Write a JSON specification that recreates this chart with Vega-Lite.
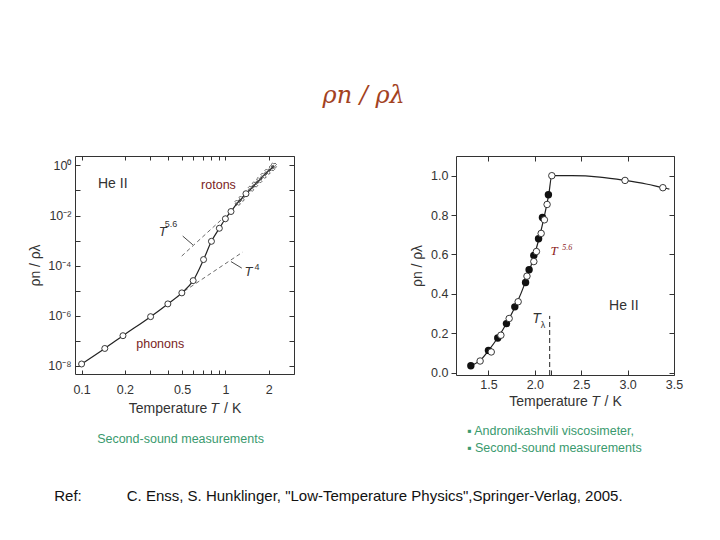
{
  "$schema": "https://vega.github.io/schema/vega-lite/v6.json",
  "background": "white",
  "padding": {"left": 28, "top": 84, "right": 0, "bottom": 0},
  "title": {"text": "ρn / ρλ", "font": "DejaVu Serif", "fontStyle": "italic", "fontWeight": "normal", "fontSize": 24, "color": "#a3421f", "anchor": "middle", "offset": 47, "dx": 8},
  "vconcat": [
    {
      "title": {"text": "Ref:\u2003\u2003\u2003C. Enss, S. Hunklinger, \"Low-Temperature Physics\",Springer-Verlag, 2005.", "orient": "bottom", "anchor": "start", "frame": "bounds", "dx": 26, "offset": 34, "font": "Liberation Sans", "fontSize": 15, "fontWeight": "normal", "color": "#111"},
      "spacing": 115,
      "hconcat": [
        {
          "width": 219,
          "height": 218,
          "title": {"text": "Second-sound measurements", "orient": "bottom", "anchor": "middle", "frame": "group", "dx": -4, "offset": 17, "font": "Liberation Sans", "fontSize": 12.5, "fontWeight": "normal", "color": "#3a9a6e"},
          "resolve": {"axis": {"x": "independent", "y": "independent"}},
          "layer": [
            {
              "data": {"values": [
                {"x": 0.497, "y": 0.000240, "g": "a"}, {"x": 1.0, "y": 0.00955, "g": "a"},
                {"x": 0.518, "y": 0.00000955, "g": "b"}, {"x": 1.32, "y": 0.000347, "g": "b"}
              ]},
              "mark": {"type": "line", "strokeDash": [4, 3], "strokeWidth": 0.8, "color": "#444"},
              "encoding": {
                "x": {"field": "x", "type": "quantitative", "scale": {"type": "log", "domain": [0.09, 3.0]},
                  "axis": {"orient": "bottom", "values": [0.1, 0.2, 0.3, 0.4, 0.5, 0.6, 0.7, 0.8, 0.9, 1, 2, 3], "labelExpr": "datum.value == 0.1 ? '0.1' : datum.value == 0.2 ? '0.2' : datum.value == 0.5 ? '0.5' : datum.value == 1 ? '1' : datum.value == 2 ? '2' : ''", "tickSize": -4, "labelPadding": 13, "title": "Temperature 𝑇 / K", "titlePadding": 6, "labelFlush": false, "labelOverlap": false}},
                "y": {"field": "y", "type": "quantitative", "scale": {"type": "log", "domain": [4.68e-9, 2.38]},
                  "axis": {"orient": "left", "values": [1e-8, 1e-7, 1e-6, 1e-5, 1e-4, 1e-3, 1e-2, 1e-1, 1], "labelExpr": "datum.value == 1 ? '10⁰' : datum.value == 0.01 ? '10⁻²' : datum.value == 0.0001 ? '10⁻⁴' : datum.value == 0.000001 ? '10⁻⁶' : datum.value == 1e-8 ? '10⁻⁸' : ''", "tickSize": -5, "labelPadding": 9, "title": "ρn / ρλ", "titlePadding": 5, "labelFlush": false, "labelOverlap": false}},
                "detail": {"field": "g", "type": "nominal"}
              }
            },
            {
              "data": {"values": [
                {"x": 0.505, "y": 0.00151, "g": "a"}, {"x": 0.594, "y": 0.000676, "g": "a"},
                {"x": 1.094, "y": 0.0001445, "g": "b"}, {"x": 1.30, "y": 0.0000794, "g": "b"}
              ]},
              "mark": {"type": "line", "strokeWidth": 0.9, "color": "#333"},
              "encoding": {
                "x": {"field": "x", "type": "quantitative", "scale": {"type": "log", "domain": [0.09, 3.0]},
                  "axis": {"orient": "top", "values": [0.1, 0.2, 0.3, 0.4, 0.5, 0.6, 0.7, 0.8, 0.9, 1, 2, 3], "labels": false, "tickSize": -4, "title": null}},
                "y": {"field": "y", "type": "quantitative", "scale": {"type": "log", "domain": [4.68e-9, 2.38]},
                  "axis": {"orient": "right", "values": [1e-8, 1e-7, 1e-6, 1e-5, 1e-4, 1e-3, 1e-2, 1e-1, 1], "labels": false, "tickSize": -5, "title": null}},
                "detail": {"field": "g", "type": "nominal"}
              }
            },
            {
              "data": {"values": [
                {"x": 0.1, "y": 1.175e-8}, {"x": 0.145, "y": 4.90e-8}, {"x": 0.194, "y": 1.585e-7},
                {"x": 0.302, "y": 9.12e-7}, {"x": 0.398, "y": 2.95e-6}, {"x": 0.498, "y": 8.13e-6},
                {"x": 0.597, "y": 2.51e-5}, {"x": 0.705, "y": 1.74e-4}, {"x": 0.80, "y": 9.33e-4},
                {"x": 0.908, "y": 3.09e-3}, {"x": 1.0, "y": 7.41e-3}, {"x": 1.094, "y": 0.01445},
                {"x": 1.218, "y": 0.0324}, {"x": 1.297, "y": 0.0468}, {"x": 1.39, "y": 0.0741},
                {"x": 1.507, "y": 0.1175}, {"x": 1.606, "y": 0.1738}, {"x": 1.72, "y": 0.257},
                {"x": 1.844, "y": 0.389}, {"x": 1.965, "y": 0.562}, {"x": 2.105, "y": 0.776}, {"x": 2.17, "y": 0.977}
              ]},
              "mark": {"type": "line", "strokeWidth": 1.2, "color": "#222", "interpolate": "monotone"},
              "encoding": {
                "x": {"field": "x", "type": "quantitative", "scale": {"type": "log", "domain": [0.09, 3.0]}, "axis": null},
                "y": {"field": "y", "type": "quantitative", "scale": {"type": "log", "domain": [4.68e-9, 2.38]}, "axis": null}
              }
            },
            {
              "data": {"values": [
                {"x": 0.1, "y": 1.175e-8}, {"x": 0.145, "y": 4.90e-8}, {"x": 0.194, "y": 1.585e-7},
                {"x": 0.302, "y": 9.12e-7}, {"x": 0.398, "y": 2.95e-6}, {"x": 0.498, "y": 8.13e-6},
                {"x": 0.597, "y": 2.51e-5}, {"x": 0.705, "y": 1.74e-4}, {"x": 0.80, "y": 9.33e-4},
                {"x": 0.908, "y": 3.09e-3}, {"x": 1.0, "y": 7.41e-3}, {"x": 1.094, "y": 0.01445},
                {"x": 1.39, "y": 0.0741}
              ]},
              "mark": {"type": "point", "shape": "circle", "filled": true, "fill": "white", "stroke": "#222", "strokeWidth": 0.9, "size": 36, "opacity": 1},
              "encoding": {
                "x": {"field": "x", "type": "quantitative", "scale": {"type": "log", "domain": [0.09, 3.0]}, "axis": null},
                "y": {"field": "y", "type": "quantitative", "scale": {"type": "log", "domain": [4.68e-9, 2.38]}, "axis": null}
              }
            },
            {
              "data": {"values": [
                {"x": 1.218, "y": 0.0324}, {"x": 1.297, "y": 0.0468}, {"x": 1.507, "y": 0.1175},
                {"x": 1.606, "y": 0.1738}, {"x": 1.72, "y": 0.257}, {"x": 1.844, "y": 0.389},
                {"x": 1.965, "y": 0.562}, {"x": 2.105, "y": 0.776}, {"x": 2.17, "y": 0.977}
              ]},
              "mark": {"type": "point", "shape": "cross", "angle": 45, "filled": false, "stroke": "#333", "strokeWidth": 0.7, "size": 30, "opacity": 1},
              "encoding": {
                "x": {"field": "x", "type": "quantitative", "scale": {"type": "log", "domain": [0.09, 3.0]}, "axis": null},
                "y": {"field": "y", "type": "quantitative", "scale": {"type": "log", "domain": [4.68e-9, 2.38]}, "axis": null}
              }
            },
            {
              "data": {"values": [{"t": "He II", "x": 0.130, "y": 0.186}]},
              "mark": {"type": "text", "align": "left", "baseline": "middle", "font": "Liberation Sans", "fontSize": 14, "color": "#333"},
              "encoding": {
                "x": {"field": "x", "type": "quantitative", "scale": {"type": "log", "domain": [0.09, 3.0]}, "axis": null},
                "y": {"field": "y", "type": "quantitative", "scale": {"type": "log", "domain": [4.68e-9, 2.38]}, "axis": null},
                "text": {"field": "t"}
              }
            },
            {
              "data": {"values": [{"t": "rotons", "x": 0.678, "y": 0.158}, {"t": "phonons", "x": 0.24, "y": 7.41e-8}]},
              "mark": {"type": "text", "align": "left", "baseline": "middle", "font": "Liberation Sans", "fontSize": 12.5, "color": "#7a2424"},
              "encoding": {
                "x": {"field": "x", "type": "quantitative", "scale": {"type": "log", "domain": [0.09, 3.0]}, "axis": null},
                "y": {"field": "y", "type": "quantitative", "scale": {"type": "log", "domain": [4.68e-9, 2.38]}, "axis": null},
                "text": {"field": "t"}
              }
            },
            {
              "data": {"values": [{"t": "T", "x": 0.366, "y": 0.00229}, {"t": "T", "x": 1.445, "y": 0.0000537}]},
              "mark": {"type": "text", "align": "center", "baseline": "middle", "font": "Liberation Sans", "fontStyle": "italic", "fontSize": 13, "color": "#333"},
              "encoding": {
                "x": {"field": "x", "type": "quantitative", "scale": {"type": "log", "domain": [0.09, 3.0]}, "axis": null},
                "y": {"field": "y", "type": "quantitative", "scale": {"type": "log", "domain": [4.68e-9, 2.38]}, "axis": null},
                "text": {"field": "t"}
              }
            },
            {
              "data": {"values": [{"t": "5.6", "x": 0.418, "y": 0.00468}, {"t": "4", "x": 1.66, "y": 0.0000912}]},
              "mark": {"type": "text", "align": "center", "baseline": "middle", "font": "Liberation Sans", "fontSize": 9, "color": "#333"},
              "encoding": {
                "x": {"field": "x", "type": "quantitative", "scale": {"type": "log", "domain": [0.09, 3.0]}, "axis": null},
                "y": {"field": "y", "type": "quantitative", "scale": {"type": "log", "domain": [4.68e-9, 2.38]}, "axis": null},
                "text": {"field": "t"}
              }
            }
          ]
        },
        {
          "width": 218,
          "height": 219,
          "title": {"text": ["▪ Andronikashvili viscosimeter,", "▪ Second-sound measurements"], "orient": "bottom", "anchor": "start", "frame": "group", "dx": 11, "offset": 16, "lineHeight": 17, "font": "Liberation Sans", "fontSize": 12.5, "fontWeight": "normal", "color": "#3a9a6e"},
          "resolve": {"axis": {"x": "independent", "y": "independent"}},
          "layer": [
            {
              "data": {"values": [
                {"x": 1.30, "y": 0.033}, {"x": 1.41, "y": 0.062}, {"x": 1.5, "y": 0.112}, {"x": 1.6, "y": 0.177},
                {"x": 1.7, "y": 0.255}, {"x": 1.8, "y": 0.347}, {"x": 1.9, "y": 0.462}, {"x": 1.95, "y": 0.53},
                {"x": 2.0, "y": 0.605}, {"x": 2.05, "y": 0.69}, {"x": 2.1, "y": 0.79}, {"x": 2.15, "y": 0.905},
                {"x": 2.183, "y": 1.0}, {"x": 2.4, "y": 1.0}, {"x": 2.7, "y": 0.993}, {"x": 2.972, "y": 0.976},
                {"x": 3.2, "y": 0.958}, {"x": 3.38, "y": 0.939}, {"x": 3.45, "y": 0.932}
              ]},
              "mark": {"type": "line", "strokeWidth": 1.2, "color": "#222", "interpolate": "monotone"},
              "encoding": {
                "x": {"field": "x", "type": "quantitative", "scale": {"domain": [1.15, 3.5], "nice": false, "zero": false},
                  "axis": {"orient": "bottom", "values": [1.5, 2.0, 2.17, 2.5, 3.0, 3.5], "labelExpr": "datum.value == 2.17 ? '' : format(datum.value, '.1f')", "tickSize": -5, "labelPadding": 8, "title": "Temperature 𝑇 / K", "titlePadding": 4, "labelFlush": false, "labelOverlap": false}},
                "y": {"field": "y", "type": "quantitative", "scale": {"domain": [-0.012, 1.1], "nice": false, "zero": false},
                  "axis": {"orient": "left", "values": [0, 0.2, 0.4, 0.6, 0.8, 1.0], "format": ".1f", "tickSize": 5, "labelPadding": 3, "title": "ρn / ρλ", "titlePadding": 6, "labelFlush": false, "labelOverlap": false}}
              }
            },
            {
              "data": {"values": [
                {"x": 1.31, "y": 0.035}, {"x": 1.50, "y": 0.113}, {"x": 1.60, "y": 0.176}, {"x": 1.694, "y": 0.249},
                {"x": 1.784, "y": 0.334}, {"x": 1.90, "y": 0.458}, {"x": 1.938, "y": 0.522}, {"x": 1.989, "y": 0.595},
                {"x": 2.04, "y": 0.68}, {"x": 2.082, "y": 0.788}, {"x": 2.146, "y": 0.903}
              ]},
              "mark": {"type": "point", "shape": "circle", "filled": true, "color": "#111", "size": 55, "opacity": 1},
              "encoding": {
                "x": {"field": "x", "type": "quantitative", "scale": {"domain": [1.15, 3.5], "nice": false, "zero": false},
                  "axis": {"orient": "top", "values": [1.5, 2.0, 2.5, 3.0, 3.5], "labels": false, "tickSize": -5, "title": null}},
                "y": {"field": "y", "type": "quantitative", "scale": {"domain": [-0.012, 1.1], "nice": false, "zero": false},
                  "axis": {"orient": "right", "values": [0, 0.2, 0.4, 0.6, 0.8, 1.0], "labels": false, "tickSize": -5, "title": null}}
              }
            },
            {
              "data": {"values": [
                {"x": 1.41, "y": 0.059}, {"x": 1.53, "y": 0.105}, {"x": 1.634, "y": 0.19}, {"x": 1.723, "y": 0.275},
                {"x": 1.82, "y": 0.36}, {"x": 1.915, "y": 0.49}, {"x": 1.989, "y": 0.564}, {"x": 2.017, "y": 0.615},
                {"x": 2.068, "y": 0.707}, {"x": 2.103, "y": 0.776}, {"x": 2.132, "y": 0.854}, {"x": 2.183, "y": 1.0},
                {"x": 2.972, "y": 0.976}, {"x": 3.38, "y": 0.939}
              ]},
              "mark": {"type": "point", "shape": "circle", "filled": true, "fill": "white", "stroke": "#222", "strokeWidth": 0.9, "size": 42, "opacity": 1},
              "encoding": {
                "x": {"field": "x", "type": "quantitative", "scale": {"domain": [1.15, 3.5], "nice": false, "zero": false}, "axis": null},
                "y": {"field": "y", "type": "quantitative", "scale": {"domain": [-0.012, 1.1], "nice": false, "zero": false}, "axis": null}
              }
            },
            {
              "data": {"values": [{"x": 2.16, "y0": -0.012, "y1": 0.288}]},
              "mark": {"type": "rule", "strokeDash": [5, 3], "strokeWidth": 1, "color": "#222"},
              "encoding": {
                "x": {"field": "x", "type": "quantitative", "scale": {"domain": [1.15, 3.5], "nice": false, "zero": false}, "axis": null},
                "y": {"field": "y0", "type": "quantitative", "scale": {"domain": [-0.012, 1.1], "nice": false, "zero": false}, "axis": null},
                "y2": {"field": "y1"}
              }
            },
            {
              "data": {"values": [{"t": "He II", "x": 2.80, "y": 0.339}]},
              "mark": {"type": "text", "align": "left", "baseline": "middle", "font": "Liberation Sans", "fontSize": 14, "color": "#333"},
              "encoding": {
                "x": {"field": "x", "type": "quantitative", "scale": {"domain": [1.15, 3.5], "nice": false, "zero": false}, "axis": null},
                "y": {"field": "y", "type": "quantitative", "scale": {"domain": [-0.012, 1.1], "nice": false, "zero": false}, "axis": null},
                "text": {"field": "t"}
              }
            },
            {
              "data": {"values": [{"t": "T", "x": 2.017, "y": 0.271}]},
              "mark": {"type": "text", "align": "center", "baseline": "middle", "font": "Liberation Sans", "fontStyle": "italic", "fontSize": 14, "color": "#333"},
              "encoding": {
                "x": {"field": "x", "type": "quantitative", "scale": {"domain": [1.15, 3.5], "nice": false, "zero": false}, "axis": null},
                "y": {"field": "y", "type": "quantitative", "scale": {"domain": [-0.012, 1.1], "nice": false, "zero": false}, "axis": null},
                "text": {"field": "t"}
              }
            },
            {
              "data": {"values": [{"t": "λ", "x": 2.089, "y": 0.24}]},
              "mark": {"type": "text", "align": "center", "baseline": "middle", "font": "Liberation Sans", "fontSize": 9, "color": "#333"},
              "encoding": {
                "x": {"field": "x", "type": "quantitative", "scale": {"domain": [1.15, 3.5], "nice": false, "zero": false}, "axis": null},
                "y": {"field": "y", "type": "quantitative", "scale": {"domain": [-0.012, 1.1], "nice": false, "zero": false}, "axis": null},
                "text": {"field": "t"}
              }
            },
            {
              "data": {"values": [{"t": "T", "x": 2.207, "y": 0.619}]},
              "mark": {"type": "text", "align": "center", "baseline": "middle", "font": "Liberation Serif", "fontStyle": "italic", "fontSize": 13, "color": "#8b1a1a"},
              "encoding": {
                "x": {"field": "x", "type": "quantitative", "scale": {"domain": [1.15, 3.5], "nice": false, "zero": false}, "axis": null},
                "y": {"field": "y", "type": "quantitative", "scale": {"domain": [-0.012, 1.1], "nice": false, "zero": false}, "axis": null},
                "text": {"field": "t"}
              }
            },
            {
              "data": {"values": [{"t": "5.6", "x": 2.35, "y": 0.632}]},
              "mark": {"type": "text", "align": "center", "baseline": "middle", "font": "Liberation Serif", "fontStyle": "italic", "fontSize": 8, "color": "#8b1a1a"},
              "encoding": {
                "x": {"field": "x", "type": "quantitative", "scale": {"domain": [1.15, 3.5], "nice": false, "zero": false}, "axis": null},
                "y": {"field": "y", "type": "quantitative", "scale": {"domain": [-0.012, 1.1], "nice": false, "zero": false}, "axis": null},
                "text": {"field": "t"}
              }
            }
          ]
        }
      ]
    }
  ],
  "config": {
    "view": {"stroke": "#333", "strokeWidth": 1},
    "axis": {"grid": false, "domain": false, "labelFont": "Liberation Sans", "titleFont": "Liberation Sans", "labelColor": "#333", "titleColor": "#333", "tickColor": "#333", "labelFontSize": 12.5, "titleFontSize": 14, "titleFontWeight": "normal"}
  }
}
